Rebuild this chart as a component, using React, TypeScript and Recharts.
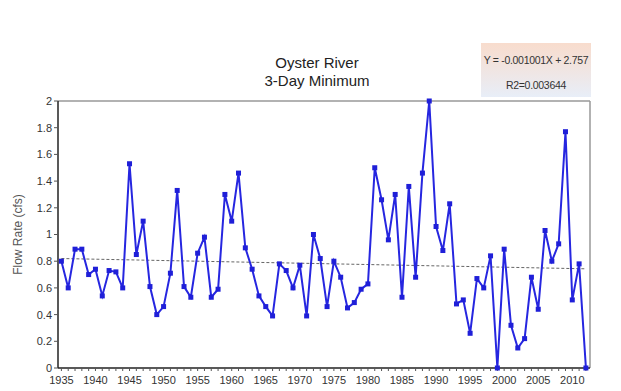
import { LineChart, Line, XAxis, YAxis, ReferenceLine } from 'recharts';

const years = Array.from({ length: 78 }, (_, i) => 1935 + i);

const flows = [
  0.80, 0.60, 0.89, 0.89, 0.70, 0.74, 0.54, 0.73, 0.72, 0.60,
  1.53, 0.85, 1.10, 0.61, 0.40, 0.46, 0.71, 1.33, 0.61, 0.53,
  0.86, 0.98, 0.53, 0.59, 1.30, 1.10, 1.46, 0.90, 0.74, 0.54,
  0.46, 0.39, 0.78, 0.73, 0.60, 0.77, 0.39, 1.00, 0.82, 0.46,
  0.80, 0.68, 0.45, 0.49, 0.59, 0.63, 1.50, 1.26, 0.96, 1.30,
  0.53, 1.36, 0.68, 1.46, 2.00, 1.06, 0.88, 1.23, 0.48, 0.51,
  0.26, 0.67, 0.60, 0.84, 0.00, 0.89, 0.32, 0.15, 0.22, 0.68,
  0.44, 1.03, 0.80, 0.93, 1.77, 0.51, 0.78, 0.00,
];

// trend line end points (from the fit shown in the box)
const trendYears = [1935, 2012];
const trendValues = [0.820, 0.743];

const xLabels = [1935, 1940, 1945, 1950, 1955, 1960, 1965, 1970, 1975, 1980, 1985, 1990, 1995, 2000, 2005, 2010];
const yTicks = [0, 0.2, 0.4, 0.6, 0.8, 1, 1.2, 1.4, 1.6, 1.8, 2];
const xDomain = [1934.5, 2012.6];

const data = years.map((y, i) => {
  const t = trendYears.indexOf(y);
  return { year: y, flow: flows[i], trend: t >= 0 ? trendValues[t] : null };
});

const FONT = 'Liberation Sans, Arial, sans-serif';

function SquareDot(props: any) {
  const { cx, cy, index } = props;
  if (cx == null || cy == null) return null;
  return <rect key={index} x={cx - 2.5} y={cy - 2.5} width={5} height={5} fill="#1f1fd8" />;
}

function YearTick(props: any) {
  const { x, y, payload } = props;
  if (!xLabels.includes(payload.value)) return null;
  return (
    <text x={x} y={y} dy={11} textAnchor="middle" fontSize={11} fill="#333" fontFamily={FONT}>
      {payload.value}
    </text>
  );
}

export default function App() {
  return (
    <div style={{ position: 'absolute', left: 0, top: 0, width: 621, height: 391, background: '#fff', fontFamily: FONT }}>
      <div style={{ position: 'absolute', left: 217, width: 200, top: 54, textAlign: 'center', fontSize: 15, lineHeight: '18px', color: '#222' }}>
        Oyster River<br />3-Day Minimum
      </div>
      <div
        style={{
          position: 'absolute', left: 481, top: 43, width: 110, height: 54,
          background: 'linear-gradient(#f8dccd, #e8eef8)', fontSize: 10.5, color: '#333', textAlign: 'center',
          whiteSpace: 'nowrap', letterSpacing: -0.3,
        }}
      >
        <div style={{ marginTop: 11 }}>Y = -0.001001X + 2.757</div>
        <div style={{ marginTop: 13 }}>R2=0.003644</div>
      </div>
      <LineChart width={621} height={391} data={data} margin={{ top: 101, right: 31, bottom: 3, left: 0 }}>
        <XAxis
          dataKey="year"
          type="number"
          domain={xDomain}
          ticks={years}
          interval={0}
          tickSize={3}
          tick={<YearTick />}
          height={20}
          axisLine={{ stroke: '#222', strokeWidth: 1.5 }}
          tickLine={{ stroke: '#555' }}
        />
        <YAxis
          domain={[0, 2]}
          ticks={yTicks}
          width={58}
          tickSize={4}
          tick={{ fontSize: 11, fill: '#333', fontFamily: FONT }}
          axisLine={{ stroke: '#222', strokeWidth: 1.5 }}
          tickLine={{ stroke: '#555' }}
          label={{ value: 'Flow Rate (cfs)', angle: -90, position: 'insideLeft', offset: 18, style: { textAnchor: 'middle', fontSize: 12, fill: '#555', fontFamily: FONT } }}
        />
        <ReferenceLine y={2} stroke="#999" strokeWidth={1.5} />
        <ReferenceLine x={xDomain[1]} stroke="#999" strokeWidth={1.5} />
        <Line
          dataKey="trend"
          connectNulls
          stroke="#666"
          strokeWidth={1}
          strokeDasharray="3 2"
          dot={false}
          isAnimationActive={false}
        />
        <Line
          dataKey="flow"
          stroke="#2626e0"
          strokeWidth={2}
          dot={<SquareDot />}
          activeDot={false}
          isAnimationActive={false}
        />
      </LineChart>
    </div>
  );
}
